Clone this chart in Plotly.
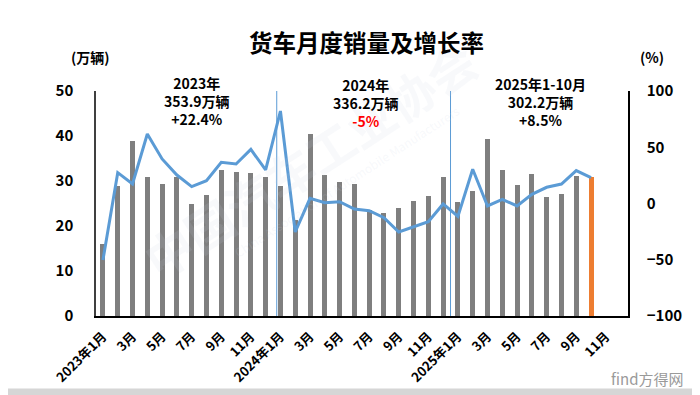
import plotly.graph_objects as go

# ---------------- data ----------------
tick_labels = ["2023年1月", "3月", "5月", "7月", "9月", "11月",
               "2024年1月", "3月", "5月", "7月", "9月", "11月",
               "2025年1月", "3月", "5月", "7月", "9月", "11月"]

# monthly truck sales (万辆), Jan 2023 .. Oct 2025
sales_2023 = [15.9, 28.9, 39.0, 31.0, 29.3, 31.0, 24.8, 27.0, 32.5, 32.1, 31.7, 30.8]
sales_2024 = [28.9, 21.3, 40.4, 31.3, 29.7, 29.3, 23.6, 23.0, 24.1, 25.5, 26.7, 30.8]
sales_2025 = [25.3, 27.8, 39.4, 32.4, 29.1, 31.5, 26.4, 27.2, 31.2, 31.0]

# year-on-year growth (%)
growth_2023 = [-50.2, 27.4, 17.3, 61.8, 39.6, 25.3, 15.0, 20.3, 36.6, 35.1, 48.1, 29.8]
growth_2024 = [82.2, -25.3, 4.6, 0.7, 1.6, -4.9, -6.4, -12.6, -25.3, -20.6, -16.1, -0.4]
growth_2025 = [-11.4, 30.4, -2.2, 3.7, -2.2, 8.1, 14.4, 17.3, 29.2, 23.0]

sales = sales_2023 + sales_2024 + sales_2025
growth = growth_2023 + growth_2024 + growth_2025
n_slots = 36  # Jan 2023 .. Dec 2025

GREY = "#7F7F7F"
ORANGE = "#ED7D31"
BLUE = "#5B9BD5"
FONT = "Noto Sans CJK SC"

x_idx = list(range(len(sales)))
bar_colors = [GREY] * (len(sales) - 1) + [ORANGE]

fig = go.Figure()
fig.add_trace(go.Bar(
    x=x_idx, y=sales, marker=dict(color=bar_colors, line=dict(width=0)),
    width=0.34, yaxis="y", showlegend=False, hoverinfo="skip"))
fig.add_trace(go.Scatter(
    x=x_idx, y=growth, yaxis="y2", mode="lines",
    line=dict(color=BLUE, width=3), showlegend=False, hoverinfo="skip"))

shapes = []
# year separators
for xs, ytop in [(11.75, 54.0), (23.5, 52.9)]:
    shapes.append(dict(type="line", xref="x", yref="y", x0=xs, x1=xs, y0=-0.4, y1=ytop,
                       line=dict(color=BLUE, width=1)))
# light band at the very bottom of the picture
shapes.append(dict(type="rect", xref="paper", yref="paper", x0=-0.3, x1=1.3,
                   y0=-0.40, y1=-0.322, fillcolor="#D6D6D6", line=dict(width=0)))

bold = dict(family=FONT, size=14, color="#000000", weight="bold")

annotations = [
    # faint watermark
    dict(text="中国汽车工业协会", xref="paper", yref="paper", x=0.40, y=0.70,
         xanchor="center", yanchor="middle", showarrow=False, textangle=-33,
         font=dict(family=FONT, size=48, color="rgba(200,210,226,0.13)", weight="bold")),
    dict(text="China Association of Automobile Manufacturers", xref="paper", yref="paper",
         x=0.47, y=0.60, xanchor="center", yanchor="middle", showarrow=False, textangle=-33,
         font=dict(family=FONT, size=12, color="rgba(200,210,226,0.15)")),
    dict(text="货车月度销量及增长率", xref="paper", yref="paper", x=0.509, y=1.218,
         xanchor="center", yanchor="middle", showarrow=False,
         font=dict(family=FONT, size=23.5, color="#000000", weight="bold")),
    dict(text="(万辆)", xref="paper", yref="paper", x=-0.011, y=1.151,
         xanchor="center", yanchor="middle", showarrow=False, font=bold),
    dict(text="(%)", xref="paper", yref="paper", x=1.045, y=1.151,
         xanchor="center", yanchor="middle", showarrow=False, font=bold),
    dict(text="2023年<br>353.9万辆<br>+22.4%", xref="x", yref="paper", x=6.33, y=0.956,
         xanchor="center", yanchor="middle", showarrow=False, font=bold),
    dict(text="2024年<br>336.2万辆<br><span style='color:#FF0000'>-5%</span>",
         xref="x", yref="paper", x=17.8, y=0.947,
         xanchor="center", yanchor="middle", showarrow=False, font=bold),
    dict(text="2025年1-10月<br>302.2万辆<br>+8.5%", xref="x", yref="paper", x=29.6, y=0.951,
         xanchor="center", yanchor="middle", showarrow=False, font=bold),
    dict(text="find方得网", xref="paper", yref="paper", x=1.036, y=-0.278,
         xanchor="center", yanchor="middle", showarrow=False,
         font=dict(family=FONT, size=15, color="#9a9a9a")),
]

# the page body adds an 8px offset, so the figure is 8px smaller than the window
fig.update_layout(
    width=692, height=387,
    margin=dict(l=88, r=72, t=83, b=79, autoexpand=False),
    paper_bgcolor="white", plot_bgcolor="white",
    bargap=0.0,
    annotations=annotations,
    shapes=shapes,
    xaxis=dict(
        range=[-0.47, n_slots - 0.5],
        tickmode="array",
        tickvals=list(range(0, n_slots, 2)),
        ticktext=tick_labels,
        tickangle=-45,
        tickfont=dict(family=FONT, size=13, color="#000000", weight="bold"),
        showline=True, linecolor="#000000", linewidth=1.5,
        showgrid=False, zeroline=False, ticks="", automargin=False,
        ticklabelstandoff=6,
    ),
    yaxis=dict(
        range=[0, 50], dtick=10,
        tickfont=dict(family=FONT, size=15, color="#000000", weight="bold"),
        showline=True, linecolor="#404040", linewidth=1.5,
        showgrid=False, zeroline=False, ticks="", ticklabelstandoff=18, automargin=False,
    ),
    yaxis2=dict(
        range=[-100, 100], dtick=50, overlaying="y", side="right",
        tickfont=dict(family=FONT, size=15, color="#000000", weight="bold"),
        showline=True, linecolor="#000000", linewidth=1.5,
        showgrid=False, zeroline=False, ticks="", ticklabelstandoff=14, automargin=False,
    ),
)

fig.write_html("out.html")
